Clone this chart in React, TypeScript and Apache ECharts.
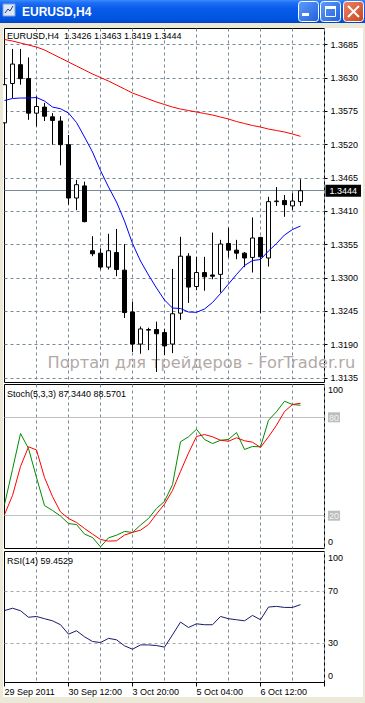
import React, { useEffect, useRef } from 'react';
import * as echarts from 'echarts';

const symbolName = 'EURUSD';
const timeframe = 'H4';

const categories = [
  '2011.09.29 04:00', '2011.09.29 08:00', '2011.09.29 12:00', '2011.09.29 16:00', '2011.09.29 20:00',
  '2011.09.30 00:00', '2011.09.30 04:00', '2011.09.30 08:00', '2011.09.30 12:00', '2011.09.30 16:00', '2011.09.30 20:00',
  '2011.10.03 00:00', '2011.10.03 04:00', '2011.10.03 08:00', '2011.10.03 12:00', '2011.10.03 16:00', '2011.10.03 20:00',
  '2011.10.04 00:00', '2011.10.04 04:00', '2011.10.04 08:00', '2011.10.04 12:00', '2011.10.04 16:00', '2011.10.04 20:00',
  '2011.10.05 00:00', '2011.10.05 04:00', '2011.10.05 08:00', '2011.10.05 12:00', '2011.10.05 16:00', '2011.10.05 20:00',
  '2011.10.06 00:00', '2011.10.06 04:00', '2011.10.06 08:00', '2011.10.06 12:00', '2011.10.06 16:00', '2011.10.06 20:00',
  '2011.10.07 00:00', '2011.10.07 04:00', '2011.10.07 08:00', '2011.10.07 12:00', '2011.10.07 16:00', '2011.10.07 20:00',
];

const tickLabels = ['29 Sep 2011', '30 Sep 12:00', '3 Oct 20:00', '5 Oct 04:00', '6 Oct 12:00'];

const opens = [1.3556, 1.3621, 1.3652, 1.3629, 1.3572, 1.3582, 1.3566, 1.3559, 1.3520, 1.3432, 1.3452, 1.3345, 1.3341, 1.3318, 1.3342, 1.3313, 1.3244, 1.3191, 1.3214, 1.3215, 1.3210, 1.3191, 1.3242, 1.3336, 1.3286, 1.3309, 1.3305, 1.3306, 1.3357, 1.3346, 1.3341, 1.3334, 1.3367, 1.3333, 1.3426, 1.3428, 1.3419, 1.3426];
const closes = [1.3619, 1.3653, 1.3629, 1.3572, 1.3583, 1.3567, 1.3560, 1.3520, 1.3432, 1.3454, 1.3393, 1.3340, 1.3318, 1.3345, 1.3314, 1.3243, 1.3191, 1.3216, 1.3215, 1.3208, 1.3188, 1.3241, 1.3336, 1.3285, 1.3309, 1.3302, 1.3303, 1.3356, 1.3346, 1.3341, 1.3333, 1.3366, 1.3335, 1.3426, 1.3427, 1.3421, 1.3427, 1.3444];
const lows = [1.3544, 1.3597, 1.3619, 1.3561, 1.3550, 1.3559, 1.3520, 1.3486, 1.3421, 1.3412, 1.3392, 1.3336, 1.3314, 1.3314, 1.3303, 1.3234, 1.3178, 1.3175, 1.3181, 1.3145, 1.3173, 1.3176, 1.3231, 1.3259, 1.3280, 1.3279, 1.3298, 1.3276, 1.3334, 1.3331, 1.3318, 1.3309, 1.3242, 1.3319, 1.3419, 1.3401, 1.3412, 1.3419];
const highs = [1.3632, 1.3678, 1.3678, 1.3664, 1.3600, 1.3589, 1.3572, 1.3567, 1.3536, 1.3462, 1.3459, 1.3369, 1.3349, 1.3373, 1.3381, 1.3356, 1.3261, 1.3220, 1.3218, 1.3228, 1.3216, 1.3315, 1.3368, 1.3341, 1.3335, 1.3335, 1.3375, 1.3363, 1.3383, 1.3363, 1.3343, 1.3400, 1.3368, 1.3434, 1.3450, 1.3437, 1.3440, 1.3463];

const maSlow = [1.36935, 1.3691, 1.36878, 1.36844, 1.36811, 1.36762, 1.36696, 1.3663, 1.36564, 1.36498, 1.36432, 1.36366, 1.36308, 1.3625, 1.36184, 1.36119, 1.36052, 1.36003, 1.35953, 1.35904, 1.35863, 1.35821, 1.35788, 1.35764, 1.35739, 1.35714, 1.3569, 1.35656, 1.35623, 1.35582, 1.35549, 1.35516, 1.35491, 1.35458, 1.35434, 1.35409, 1.35376, 1.35338];
const maFast = [1.35929, 1.35962, 1.3597, 1.3597, 1.35978, 1.3592, 1.35821, 1.35793, 1.35723, 1.35566, 1.35327, 1.35079, 1.34774, 1.34501, 1.34254, 1.3394, 1.33569, 1.3328, 1.3305, 1.32835, 1.32637, 1.32505, 1.32497, 1.32439, 1.32434, 1.32489, 1.32596, 1.32744, 1.32901, 1.33058, 1.33206, 1.33289, 1.33305, 1.33446, 1.33569, 1.3371, 1.338, 1.33858];

const stochMain = [26.8, 48.2, 70.1, 61.0, 43.3, 26.2, 23.2, 19.8, 15.2, 14.6, 8.8, 6.7, 1.0, 6.5, 8.1, 10.4, 9.8, 14.3, 18.3, 24.4, 28.7, 39.0, 65.1, 68.1, 72.7, 66.5, 64.0, 66.0, 66.5, 70.7, 60.4, 62.2, 62.0, 78.2, 83.4, 89.8, 87.8, 87.344];
const stochSignal = [20.7, 32.3, 50.0, 62.0, 60.1, 43.3, 31.7, 22.3, 18.3, 15.9, 12.2, 8.8, 5.5, 4.5, 4.7, 8.2, 9.8, 11.2, 14.6, 21.0, 27.1, 35.4, 47.0, 58.2, 68.3, 69.5, 68.1, 66.0, 65.4, 67.5, 65.7, 64.8, 61.6, 68.1, 75.2, 83.5, 87.8, 88.5701];
const rsi = [54.9, 56.7, 54.8, 49.8, 50.4, 48.7, 47.1, 44.1, 36.9, 39.5, 34.9, 31.3, 30.5, 33.7, 32.6, 28.0, 25.4, 28.7, 28.7, 28.2, 27.0, 36.4, 46.1, 42.0, 44.8, 44.1, 44.1, 50.4, 48.7, 47.9, 47.1, 51.2, 47.9, 57.6, 58.1, 57.3, 57.3, 59.4529];

const priceTicks = [1.3135, 1.3190, 1.3245, 1.3300, 1.3355, 1.3410, 1.3465, 1.3520, 1.3575, 1.3630, 1.3685];
const stochTicks = [0, 20, 80, 100];
const stochLevels = [80, 20];
const rsiTicks = [0, 30, 70, 100];
const rsiLevels = [70, 30];

const watermark = 'Портал для трейдеров - ForTrader.ru';

export default function App() {
  const ref = useRef<HTMLDivElement>(null);

  useEffect(() => {
    document.body.style.margin = '0';
    const chart = echarts.init(ref.current!, null, { renderer: 'svg' });
    const FONT = '"Liberation Sans", Arial, sans-serif';
    const last = opens.length - 1;
    const fmt4 = (v: number) => v.toFixed(4);
    const candleData = opens.map((o, i) => [o, closes[i], lows[i], highs[i]]);

    const gridLine = {
      show: true,
      interval: (i: number) => i > 0 && i % 4 === 0,
      lineStyle: { color: '#778899', type: [3, 3], width: 1 },
    };
    const xBase = {
      type: 'category',
      data: categories,
      boundaryGap: false,
      axisLine: { show: false },
      axisTick: { show: false },
      axisLabel: { show: false },
      splitLine: gridLine,
    };
    const gridBase = { left: 4.5, width: 320, show: true, borderColor: '#000', borderWidth: 1, backgroundColor: 'transparent' };
    const lbl = { fontSize: 9, fontFamily: FONT, color: '#000' };

    const header = `${symbolName},${timeframe}  ${fmt4(opens[last])} ${fmt4(highs[last])} ${fmt4(lows[last])} ${fmt4(closes[last])}`;
    const stochHeader = `Stoch(5,3,3) ${stochMain[last].toFixed(4)} ${stochSignal[last].toFixed(4)}`;
    const rsiHeader = `RSI(14) ${rsi[last].toFixed(4)}`;

    const txt = (x: number, y: number, text: string, extra: any = {}) => ({
      type: 'text',
      x,
      y,
      z: 20,
      style: {
        text,
        fill: '#000',
        font: `9px ${FONT}`,
        align: 'left',
        verticalAlign: 'middle',
        textAlign: 'left',
        textVerticalAlign: 'middle',
        ...extra,
      },
    });

    const option: any = {
      animation: false,
      backgroundColor: '#FFFFFF',
      grid: [
        { ...gridBase, top: 28.5, height: 354 },
        { ...gridBase, top: 384.5, height: 164 },
        { ...gridBase, top: 551.5, height: 131 },
      ],
      xAxis: [
        { ...xBase, gridIndex: 0 },
        { ...xBase, gridIndex: 1 },
        {
          ...xBase,
          gridIndex: 2,
          axisTick: { show: true, interval: (i: number) => i % 8 === 0, length: 4, lineStyle: { color: '#000' } },
          axisLabel: {
            show: true,
            interval: (i: number) => i % 8 === 0,
            formatter: (_v: string, i: number) => tickLabels[i / 8] ?? '',
            align: 'left',
            margin: 5,
            ...lbl,
          },
        },
      ],
      yAxis: [
        {
          gridIndex: 0,
          type: 'value',
          position: 'right',
          min: 1.31276,
          max: 1.37117,
          axisLine: { show: false },
          axisTick: { show: true, customValues: priceTicks, length: 3, lineStyle: { color: '#000' } },
          axisLabel: { show: true, customValues: priceTicks, formatter: (v: number) => fmt4(v), margin: 6, ...lbl },
          splitLine: { show: true, lineStyle: { color: '#778899', type: [3, 3], width: 1 } },
        },
        {
          gridIndex: 1,
          type: 'value',
          position: 'right',
          min: 0,
          max: 100,
          axisLine: { show: false },
          axisTick: { show: false },
          splitLine: { show: false },
          axisLabel: {
            show: true,
            customValues: stochTicks,
            margin: 3.5,
            formatter: (v: number) => (v === 100 ? '{t|100}' : v === 0 ? '{b|0}' : `{l|${v}}`),
            rich: {
              t: { ...lbl, padding: [11, 0, 0, 0] },
              b: { ...lbl, padding: [0, 0, 13, 0] },
              l: { ...lbl, color: '#F4F4F4', backgroundColor: '#BDBDBD', padding: [1, 1, 0, 1] },
            },
          },
        },
        {
          gridIndex: 2,
          type: 'value',
          position: 'right',
          min: 0,
          max: 100,
          axisLine: { show: false },
          axisTick: { show: false },
          splitLine: { show: false },
          axisLabel: {
            show: true,
            customValues: rsiTicks,
            margin: 3.5,
            formatter: (v: number) => (v === 100 ? '{t|100}' : v === 0 ? '{b|0}' : `{m|${v}}`),
            rich: {
              t: { ...lbl, padding: [13, 0, 0, 0] },
              b: { ...lbl, padding: [0, 0, 13, 0] },
              m: { ...lbl },
            },
          },
        },
      ],
      series: [
        {
          type: 'candlestick',
          xAxisIndex: 0,
          yAxisIndex: 0,
          data: candleData,
          barWidth: 4,
          z: 2,
          itemStyle: { color: '#FFFFFF', color0: '#000000', borderColor: '#000000', borderColor0: '#000000', borderWidth: 1 },
        },
        {
          type: 'line',
          xAxisIndex: 0,
          yAxisIndex: 0,
          data: maSlow,
          symbol: 'none',
          z: 3,
          lineStyle: { color: '#FF0000', width: 1 },
          markLine: {
            silent: true,
            symbol: 'none',
            animation: false,
            precision: 4,
            z: 1,
            lineStyle: { color: '#778899', type: 'solid', width: 1 },
            label: {
              show: true,
              position: 'end',
              distance: 1,
              formatter: fmt4(closes[last]),
              backgroundColor: '#000',
              color: '#FFFFFF',
              fontSize: 9,
              fontFamily: FONT,
              padding: [2, 4, 1, 4],
            },
            data: [{ yAxis: closes[last] }],
          },
        },
        {
          type: 'line',
          xAxisIndex: 0,
          yAxisIndex: 0,
          data: maFast,
          symbol: 'none',
          z: 3,
          lineStyle: { color: '#0000FF', width: 1 },
        },
        {
          type: 'line',
          xAxisIndex: 1,
          yAxisIndex: 1,
          data: stochMain,
          symbol: 'none',
          z: 3,
          lineStyle: { color: '#008C00', width: 1 },
          markLine: {
            silent: true,
            symbol: 'none',
            animation: false,
            z: 1,
            label: { show: false },
            lineStyle: { color: '#C0C0C0', type: 'solid', width: 1 },
            data: stochLevels.map((v) => ({ yAxis: v })),
          },
        },
        {
          type: 'line',
          xAxisIndex: 1,
          yAxisIndex: 1,
          data: stochSignal,
          symbol: 'none',
          z: 4,
          lineStyle: { color: '#FF0000', width: 1 },
        },
        {
          type: 'line',
          xAxisIndex: 2,
          yAxisIndex: 2,
          data: rsi,
          symbol: 'none',
          z: 3,
          lineStyle: { color: '#191970', width: 1 },
          markLine: {
            silent: true,
            symbol: 'none',
            animation: false,
            z: 1,
            label: { show: false },
            lineStyle: { color: '#A8A8A8', type: [3, 3], width: 1 },
            data: rsiLevels.map((v) => ({ yAxis: v })),
          },
        },
      ],
      graphic: [
        // window frame strips
        { type: 'rect', z: 30, shape: { x: 0, y: 23, width: 365, height: 5 }, style: { fill: '#ECE9D8' } },
        { type: 'rect', z: 30, shape: { x: 0, y: 23, width: 3, height: 680 }, style: { fill: '#ECE9D8' } },
        { type: 'rect', z: 30, shape: { x: 363, y: 23, width: 2, height: 680 }, style: { fill: '#ECE9D8' } },
        { type: 'rect', z: 30, shape: { x: 0, y: 697, width: 365, height: 6 }, style: { fill: '#ECE9D8' } },
        // title bar
        {
          type: 'rect',
          z: 30,
          shape: { x: 0, y: 0, width: 365, height: 23 },
          style: {
            fill: {
              type: 'linear', x: 0, y: 0, x2: 0, y2: 1,
              colorStops: [
                { offset: 0, color: '#3A8CFF' },
                { offset: 0.12, color: '#1F6FF5' },
                { offset: 0.35, color: '#0A5CEB' },
                { offset: 0.8, color: '#0055E2' },
                { offset: 1, color: '#0046C8' },
              ],
            },
          },
        },
        // icon
        { type: 'rect', z: 31, shape: { x: 3, y: 4, width: 12, height: 12 }, style: { fill: '#DCE6F5', stroke: '#7FA0D8', lineWidth: 1 } },
        { type: 'polyline', z: 32, shape: { points: [[5, 13], [8, 9], [10, 11], [13, 6]] }, style: { stroke: '#1A3C8C', lineWidth: 1, fill: 'none' } },
        {
          type: 'text',
          z: 31,
          x: 22,
          y: 12,
          style: {
            text: `${symbolName},${timeframe}`,
            fill: '#FFFFFF',
            font: `bold 12px ${FONT}`,
            align: 'left',
            verticalAlign: 'middle',
            textAlign: 'left',
            textVerticalAlign: 'middle',
            textShadowColor: '#0A2070',
            textShadowOffsetX: 1,
            textShadowOffsetY: 1,
            textShadowBlur: 0,
          },
        },
        // minimize
        {
          type: 'rect', z: 31,
          shape: { x: 298.5, y: 1.5, width: 20, height: 20, r: 3 },
          style: {
            stroke: '#FFFFFF', lineWidth: 1,
            fill: { type: 'linear', x: 0, y: 0, x2: 1, y2: 1, colorStops: [{ offset: 0, color: '#5C9DFF' }, { offset: 1, color: '#2360D8' }] },
          },
        },
        { type: 'rect', z: 32, shape: { x: 302, y: 13, width: 7, height: 3 }, style: { fill: '#FFFFFF' } },
        // maximize
        {
          type: 'rect', z: 31,
          shape: { x: 320.5, y: 1.5, width: 20, height: 20, r: 3 },
          style: {
            stroke: '#FFFFFF', lineWidth: 1,
            fill: { type: 'linear', x: 0, y: 0, x2: 1, y2: 1, colorStops: [{ offset: 0, color: '#5C9DFF' }, { offset: 1, color: '#2360D8' }] },
          },
        },
        { type: 'rect', z: 32, shape: { x: 325.5, y: 6.5, width: 10, height: 10 }, style: { fill: 'none', stroke: '#FFFFFF', lineWidth: 1 } },
        { type: 'rect', z: 32, shape: { x: 325, y: 6, width: 11, height: 3 }, style: { fill: '#FFFFFF' } },
        // close
        {
          type: 'rect', z: 31,
          shape: { x: 343.5, y: 1.5, width: 20, height: 20, r: 3 },
          style: {
            stroke: '#FFFFFF', lineWidth: 1,
            fill: { type: 'linear', x: 0, y: 0, x2: 1, y2: 1, colorStops: [{ offset: 0, color: '#EE8466' }, { offset: 1, color: '#C8431F' }] },
          },
        },
        { type: 'line', z: 32, shape: { x1: 348, y1: 6, x2: 359, y2: 17 }, style: { stroke: '#FFFFFF', lineWidth: 2 } },
        { type: 'line', z: 32, shape: { x1: 359, y1: 6, x2: 348, y2: 17 }, style: { stroke: '#FFFFFF', lineWidth: 2 } },
        // headers
        txt(7, 35.5, header),
        txt(7, 393.5, stochHeader),
        txt(7, 561, rsiHeader),
        // watermark
        {
          type: 'text',
          z: 1,
          x: 47.5,
          y: 362,
          style: {
            text: watermark,
            fill: '#B2A9A9',
            font: `16.2px "DejaVu Sans", Verdana, sans-serif`,
            align: 'left',
            verticalAlign: 'middle',
            textAlign: 'left',
            textVerticalAlign: 'middle',
          },
        },
      ],
    };

    chart.setOption(option);
    return () => chart.dispose();
  }, []);

  return <div ref={ref} style={{ width: 365, height: 703, background: '#ECE9D8' }} />;
}
